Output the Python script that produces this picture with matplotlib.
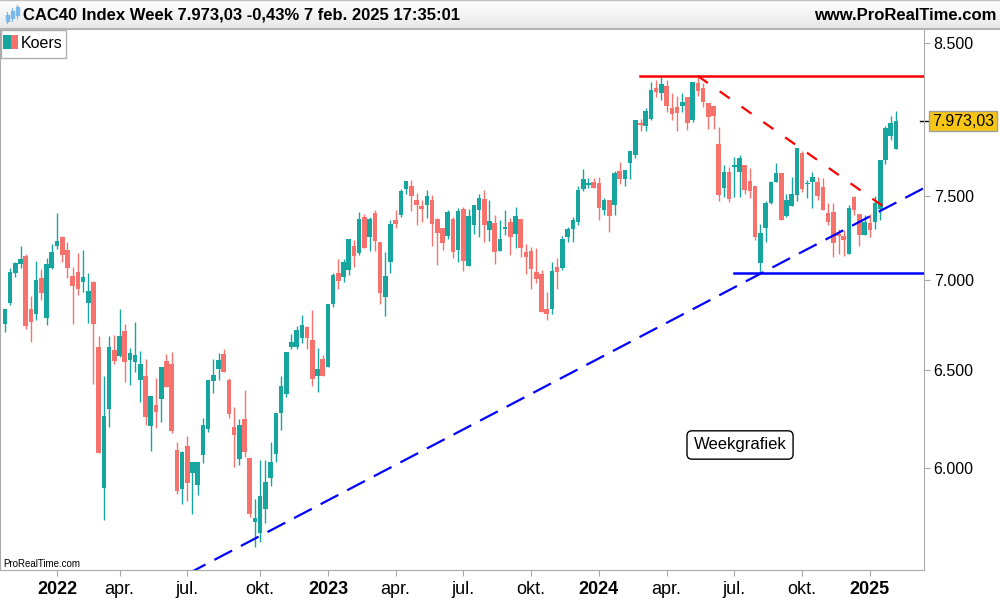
import numpy as np
import pandas as pd
import matplotlib
matplotlib.use('Agg')
import matplotlib.pyplot as plt
from matplotlib.patches import Rectangle
import matplotlib.transforms as mtransforms
from matplotlib.ticker import FixedLocator, NullLocator

plt.rcParams['font.family'] = ['Liberation Sans', 'DejaVu Sans']

# weekly candles CAC40, Friday dates
dates = pd.date_range('2021-10-29', periods=172, freq='W-FRI')

opens = [6753, 6868, 7041, 7094, 7138, 6835, 6808, 7011, 6786, 7070,
         7198, 7250, 7173, 7022, 7045, 6989, 6869, 6988, 6625, 5900,
         6298, 6609, 6577, 6712, 6556, 6546, 6450, 6469, 6208, 6318,
         6349, 6550, 6533, 6089, 5898, 6106, 5977, 5918, 6064, 6194,
         6443, 6506, 6587, 6448, 6203, 6045, 6245, 6050, 5740, 5690,
         5801, 5948, 6070, 6277, 6377, 6624, 6626, 6676, 6735, 6663,
         6471, 6560, 6518, 6863, 7040, 7019, 7059, 7196, 7155, 7370,
         7248, 7395, 7220, 6904, 7105, 7352, 7384, 7544, 7560, 7473,
         7437, 7444, 7475, 7358, 7302, 7254, 7358, 7175, 7420, 7081,
         7321, 7415, 7479, 7294, 7334, 7169, 7300, 7340, 7268, 7358,
         7161, 7167, 7045, 7034, 6833, 6833, 7076, 7070, 7250, 7300,
         7340, 7542, 7567, 7585, 7579, 7413, 7473, 7440, 7654, 7603,
         7702, 7756, 7963, 7943, 7989, 8192, 8160, 8208, 8057, 8063,
         8070, 8129, 7980, 8223, 8189, 8095, 8075, 7825, 7545, 7644,
         7680, 7644, 7691, 7591, 7560, 7098, 7302, 7454, 7583, 7643,
         7376, 7438, 7507, 7766, 7570, 7582, 7585, 7552, 7394, 7400,
         7269, 7255, 7148, 7494, 7386, 7261, 7332, 7342, 7417, 7723,
         7877, 7792]
highs = [6835, 7067, 7105, 7196, 7150, 6908, 7109, 7063, 7127, 7209,
         7395, 7256, 7220, 7075, 7155, 7173, 7040, 6994, 6685, 6469,
         6685, 6690, 6835, 6752, 6621, 6762, 6604, 6560, 6364, 6459,
         6518, 6587, 6597, 6126, 6085, 6159, 6030, 6030, 6248, 6448,
         6560, 6593, 6612, 6457, 6306, 6245, 6396, 6050, 5849, 6039,
         6039, 6130, 6277, 6471, 6598, 6696, 6741, 6801, 6742, 6829,
         6620, 6580, 6863, 7041, 7121, 7121, 7238, 7232, 7398, 7386,
         7370, 7410, 7220, 7161, 7350, 7410, 7541, 7591, 7597, 7516,
         7473, 7535, 7503, 7364, 7302, 7413, 7372, 7425, 7432, 7417,
         7443, 7510, 7535, 7473, 7383, 7352, 7413, 7364, 7432, 7358,
         7209, 7190, 7184, 7057, 6932, 7103, 7127, 7258, 7310, 7370,
         7557, 7666, 7610, 7610, 7615, 7487, 7473, 7654, 7710, 7660,
         7782, 7980, 7986, 8061, 8235, 8246, 8267, 8246, 8158, 8137,
         8158, 8129, 8230, 8275, 8223, 8095, 8075, 7932, 7694, 7677,
         7744, 7756, 7691, 7675, 7560, 7328, 7467, 7593, 7704, 7643,
         7510, 7616, 7800, 7780, 7597, 7648, 7616, 7608, 7456, 7452,
         7300, 7290, 7440, 7500, 7386, 7380, 7390, 7500, 7723, 7940,
         8006, 8039]
lows = [6709, 6858, 7018, 7070, 6725, 6654, 6775, 6887, 6746, 7064,
        7180, 7105, 7012, 6753, 6914, 6932, 6759, 6428, 6073, 5750,
        6203, 6535, 6573, 6437, 6422, 6492, 6334, 6213, 6081, 6197,
        6228, 6410, 6176, 5871, 5827, 5839, 5779, 5868, 6026, 6178,
        6382, 6448, 6489, 6251, 6006, 6016, 6052, 5764, 5624, 5648,
        5737, 5912, 6030, 6189, 6361, 6612, 6612, 6645, 6615, 6419,
        6387, 6471, 6518, 6846, 6949, 6989, 7030, 7076, 7143, 7185,
        7169, 7169, 6863, 6797, 7041, 7306, 7372, 7508, 7409, 7321,
        7337, 7362, 7196, 7086, 7173, 7240, 7127, 7103, 7053, 7081,
        7268, 7250, 7218, 7224, 7094, 7169, 7262, 7143, 7187, 7133,
        7036, 6949, 6984, 6815, 6775, 6808, 6949, 7059, 7218, 7218,
        7322, 7529, 7547, 7545, 7352, 7384, 7282, 7384, 7574, 7561,
        7604, 7736, 7911, 7910, 7983, 8135, 8115, 8030, 7980, 7909,
        8030, 7917, 7969, 8140, 8065, 7922, 7922, 7466, 7489, 7461,
        7489, 7489, 7510, 7485, 7232, 7038, 7222, 7450, 7583, 7352,
        7372, 7438, 7466, 7520, 7485, 7424, 7473, 7413, 7322, 7133,
        7150, 7140, 7148, 7380, 7195, 7261, 7250, 7300, 7352, 7700,
        7850, 7792]
closes = [6835, 7045, 7098, 7121, 6742, 6764, 6999, 6927, 7092, 7161,
          7226, 7145, 7070, 6966, 6949, 7016, 6936, 6753, 6073, 6260,
          6625, 6551, 6685, 6546, 6593, 6583, 6533, 6256, 6364, 6283,
          6518, 6413, 6184, 5886, 6076, 5928, 6030, 6030, 6215, 6448,
          6474, 6555, 6489, 6272, 6166, 6215, 6076, 5779, 5757, 5863,
          5931, 6030, 6277, 6418, 6598, 6651, 6718, 6746, 6676, 6452,
          6505, 6471, 6863, 7028, 6993, 7104, 7238, 7138, 7358, 7185,
          7358, 7224, 6927, 7022, 7328, 7330, 7529, 7591, 7500, 7440,
          7420, 7498, 7327, 7276, 7217, 7400, 7163, 7407, 7111, 7379,
          7443, 7485, 7321, 7346, 7163, 7238, 7304, 7248, 7376, 7187,
          7134, 7064, 7007, 6815, 6806, 7051, 7045, 7240, 7298, 7352,
          7535, 7603, 7571, 7548, 7427, 7473, 7374, 7641, 7603, 7660,
          7782, 7980, 7945, 8039, 8179, 8163, 8222, 8069, 8017, 8023,
          8099, 7960, 8230, 8169, 8101, 7999, 8004, 7503, 7644, 7480,
          7684, 7734, 7535, 7527, 7253, 7272, 7454, 7583, 7643, 7352,
          7473, 7508, 7800, 7541, 7580, 7616, 7499, 7413, 7342, 7212,
          7255, 7235, 7425, 7413, 7261, 7342, 7292, 7455, 7723, 7930,
          7959, 7973]

# trend lines (index, price)
resist_level = 8273
support_level = 7038
down_line = [(133, 8273), (170, 7403)]
up_line = [(48, 5662), (145, 7035)]

teal = '#17a5a0'
salmon = '#f8726d'

fig = plt.figure(figsize=(10, 6), dpi=100)
ax = fig.add_axes([0, 0.05, 0.924, 0.9])
ax.set_yscale('log')
ax.set_ylim(5518, 8591)
ax.set_xlim(-0.94, 176.4)

x = np.arange(len(closes))
o = np.array(opens, float)
h = np.array(highs, float)
l = np.array(lows, float)
c = np.array(closes, float)
up = c >= o
cols = np.where(up, teal, salmon)

ax.vlines(x, l, h, colors=cols, lw=1.0, zorder=2)
bot = np.minimum(o, c)
hgt = np.maximum(np.abs(c - o), bot * 0.0012)
ax.bar(x, hgt, bottom=bot, width=0.88, color=cols, lw=0, zorder=3)

# support / resistance
ax.plot([121.9, 177], [resist_level, resist_level], color='#ff0000', lw=1.8, zorder=4)
ax.plot([140, 177], [support_level, support_level], color='#0000ff', lw=1.8, zorder=4)
(x1, p1), (x2, p2) = down_line
ax.plot([x1, x2], [p1, p2], color='#ff0000', lw=1.6, ls=(0, (5.5, 6.5)), zorder=4)
(a1, q1), (a2, q2) = up_line
k = np.log(q2 / q1) / (a2 - a1)
xs = np.array([30, 177])
ax.plot(xs, q1 * np.exp((xs - a1) * k), color='#0000ff', lw=1.6, ls=(0, (9, 4.5)), zorder=4)

# axes styling
ax.spines['top'].set_visible(False)
for s in ['left', 'right', 'bottom']:
    ax.spines[s].set_color('#a8a8a8')
ax.yaxis.tick_right()
ax.yaxis.set_major_locator(FixedLocator([6000, 6500, 7000, 7500, 8500]))
ax.yaxis.set_minor_locator(NullLocator())
ax.set_yticklabels(['6.000', '6.500', '7.000', '7.500', '8.500'])
ax.tick_params(axis='y', length=4, color='#a8a8a8', labelsize=11.5, pad=3)

qstarts = pd.date_range('2022-01-01', '2025-01-01', freq='QS')
tick_pos, tick_lab = [], []
month_names = {4: 'apr.', 7: 'jul.', 10: 'okt.'}
for q in qstarts:
    idx = int(np.argmax(dates >= q))
    tick_pos.append(idx)
    tick_lab.append(str(q.year) if q.month == 1 else month_names[q.month])
ax.set_xticks(tick_pos)
ax.set_xticklabels(tick_lab)
ax.tick_params(axis='x', length=4, color='#a8a8a8', labelsize=13, pad=4)
for t in ax.get_xticklabels():
    if t.get_text().isdigit():
        t.set_fontweight('bold')

# price label
trans = mtransforms.blended_transform_factory(ax.transAxes, ax.transData)
ax.plot([0.996, 1.004], [closes[-1]] * 2, color='black', lw=1, transform=trans, clip_on=False)
ax.text(1.0085, closes[-1], '7.973,03', transform=trans, va='center', ha='left',
        fontsize=11.5, clip_on=False,
        bbox=dict(boxstyle='square,pad=0.18', fc='#f7c514', ec='#a0a0a0', lw=1))

ax.text(0.8009, 0.2315, 'Weekgrafiek', transform=ax.transAxes, ha='center', va='center',
        fontsize=12, bbox=dict(boxstyle='round,pad=0.4,rounding_size=0.3', fc='white', ec='black', lw=1))
ax.text(0.003, 0.011, 'ProRealTime.com', transform=ax.transAxes, ha='left', va='center',
        fontsize=7)

# header band
hax = fig.add_axes([0, 0.95, 1, 0.05])
grad = np.linspace(1.0, 0.9, 50).reshape(-1, 1)
hax.imshow(grad, aspect='auto', cmap='gray', vmin=0, vmax=1, extent=[0, 1, 0, 1])
hax.set_xlim(0, 1)
hax.set_ylim(0, 1)
hax.axis('off')
hax.axhline(0.02, color='#b4b4b4', lw=1.5)
hax.axhline(0.99, color='#c0c0c0', lw=1)
hax.text(0.023, 0.5, 'CAC40 Index Week 7.973,03 -0,43% 7 feb. 2025 17:35:01',
         fontsize=12, fontweight='bold', va='center', ha='left')
hax.text(0.996, 0.5, 'www.ProRealTime.com', fontsize=12, fontweight='bold',
         va='center', ha='right')
# small candle icon
for xx, y0, y1, b0, b1 in [(0.007, 0.25, 0.6, 0.3, 0.5), (0.012, 0.3, 0.75, 0.4, 0.65),
                            (0.017, 0.4, 0.85, 0.5, 0.78)]:
    hax.plot([xx, xx], [y0, y1], color='#7ab8e8', lw=0.8)
    hax.add_patch(Rectangle((xx - 0.0015, b0), 0.003, b1 - b0, color='#7ab8e8'))

# legend box
fig.patches.append(Rectangle((0.0005, 1 - 58 / 600), 0.065, 28 / 600, transform=fig.transFigure,
                             fc='white', ec='#b0b0b0', lw=1, zorder=10))
fig.patches.append(Rectangle((0.003, 1 - 49 / 600), 0.0075, 14 / 600, transform=fig.transFigure,
                             fc=teal, ec='none', zorder=11))
fig.patches.append(Rectangle((0.0105, 1 - 49 / 600), 0.0075, 14 / 600, transform=fig.transFigure,
                             fc=salmon, ec='none', zorder=11))
fig.text(0.021, 1 - 43 / 600, 'Koers', fontsize=11.5, va='center', ha='left', zorder=12)

fig.savefig('out.png', dpi=100)
